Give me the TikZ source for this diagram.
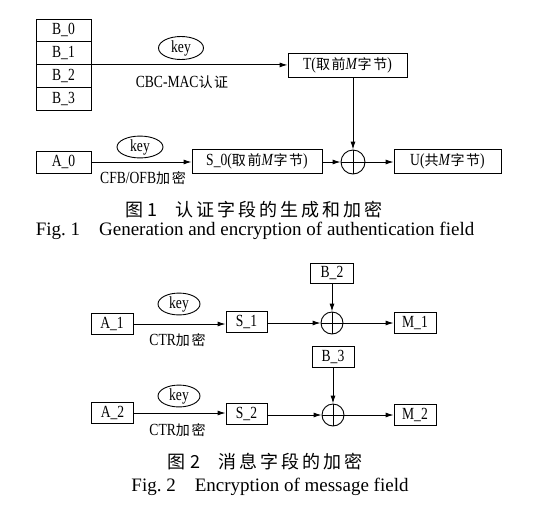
\documentclass[tikz,border=0pt]{standalone}
\usepackage{fontspec}
\setmainfont{Liberation Serif}
\newfontfamily\cond[FakeStretch=0.8]{Liberation Serif}
\newfontfamily\cjk{Noto Sans CJK SC}
\newfontfamily\cjkw[LetterSpace=12]{Noto Sans CJK SC}
\usetikzlibrary{arrows.meta,shapes.geometric}
\newcommand{\zh}[1]{{\fontsize{14}{16}\selectfont\cjkw #1}}
\tikzset{
	blk/.style={draw, line width=0.9pt, inner sep=0pt, font=\fontsize{17}{19}\selectfont\cond},
	keyo/.style={draw, ellipse, line width=0.9pt, inner sep=0pt, font=\fontsize{17}{19}\selectfont\cond},
	xorc/.style={circle, draw, line width=0.9pt, inner sep=0pt, minimum size=#1,
		path picture={\draw[line width=0.9pt] (path picture bounding box.north) -- (path picture bounding box.south)
			(path picture bounding box.west) -- (path picture bounding box.east);}},
	arr/.style={-{Latex[length=8pt,width=5pt]}, line width=0.9pt},
	lbl/.style={font=\fontsize{17}{19}\selectfont\cond, inner sep=0pt},
	capzh/.style={font=\fontsize{18}{20}\selectfont\cjk, inner sep=0pt},
	capen/.style={font=\fontsize{19}{21}\selectfont, inner sep=0pt}
}

\begin{document}
\begin{tikzpicture}[x=1pt, y=-1pt]
			\useasboundingbox (0, 0) rectangle (538, 507);
			%%%%% FIG 1 %%%%%
			
			\node[blk, minimum width=55pt, minimum height=22.75pt] (b0) at (63.5, 30.4) {B\_0};
			\node[blk, minimum width=55pt, minimum height=22.75pt] (b1) at (63.5, 53.1) {B\_1};
			\node[blk, minimum width=55pt, minimum height=22.75pt] (b2) at (63.5, 75.9) {B\_2};
			\node[blk, minimum width=55pt, minimum height=22.75pt] (b3) at (63.5, 98.6) {B\_3};
			
			\node[blk, minimum width=119pt, minimum height=24pt] (tag) at (347.5, 65) {T(\zh{取前}\textit{M}\zh{字节})};
			\node[keyo, minimum width=45pt, minimum height=23pt] (key0) at (181, 48) {key};
			\node[lbl] (cbc) at (182, 82) {CBC-MAC\zh{认证}};
			\draw[arr] (b1.south east) -- (b1.south east -| tag.west);
			
			\node[blk, minimum width=55pt, minimum height=22pt] (a0) at (63.5, 162) {A\_0};
			\node[blk, minimum width=130pt, minimum height=24pt] (s0) at (257, 161) {S\_0(\zh{取前}\textit{M}\zh{字节})};
			\node[xorc=24pt] (x0) at (353, 162) {};
			\node[blk, minimum width=107pt, minimum height=24pt] (u) at (447.5, 161) {U(\zh{共}\textit{M}\zh{字节})};
			\node[keyo, minimum width=46pt, minimum height=20pt] (key1) at (140, 147) {key};
			\node[lbl] (cfb) at (143, 178) {CFB/OFB\zh{加密}};
			
			\draw[arr] (a0) -- (a0 -| s0.west);
			\draw[arr] (x0 -| s0.east) -- (x0);
			\draw[arr] (x0) -- (x0 -| u.west);
			\draw[arr] (tag.south -| x0) -- (x0.north);
			
			\node[capzh] (cap1) at (254, 210) {图~1\quad 认\,证\,字\,段\,的\,生\,成\,和\,加\,密};
			\node[capen] (cap1e) at (255, 231) {Fig.~1\quad Generation and encryption of authentication field};
			
			%%%%% FIG 2 %%%%%
			
			\node[blk, minimum width=42pt, minimum height=21pt] (a1) at (112, 324) {A\_1};
			\node[blk, minimum width=41pt, minimum height=21pt] (s1) at (246.5, 322) {S\_1};
			\node[xorc=22pt] (x1) at (332, 323) {};
			\node[blk, minimum width=42pt, minimum height=21pt] (m1) at (415, 322.5) {M\_1};
			\node[blk, minimum width=43pt, minimum height=20pt] (bb2) at (332, 273) {B\_2};
			\node[keyo, minimum width=42pt, minimum height=17pt] (key2) at (179, 304) {key};
			\node[lbl] (ctr1) at (177.5, 340) {CTR\zh{加密}};
			
			\draw[arr] (a1) -- (a1 -| s1.west);
			\draw[arr] (x1 -| s1.east) -- (x1);
			\draw[arr] (x1) -- (x1 -| m1.west);
			\draw[arr] (bb2) -- (x1);
			
			\node[blk, minimum width=42pt, minimum height=21pt] (a2) at (112.5, 413) {A\_2};
			\node[blk, minimum width=41pt, minimum height=21pt] (s2) at (246.5, 414) {S\_2};
			\node[xorc=22pt] (x2) at (333, 415) {};
			\node[blk, minimum width=42pt, minimum height=21pt] (m2) at (415, 415) {M\_2};
			\node[blk, minimum width=42pt, minimum height=21pt] (bb3) at (333, 356.5) {B\_3};
			\node[keyo, minimum width=42pt, minimum height=17pt] (key3) at (179, 396) {key};
			\node[lbl] (ctr2) at (177.5, 430) {CTR\zh{加密}};
			
			\draw[arr] (a2) -- (a2 -| s2.west);
			\draw[arr] (x2 -| s2.east) -- (x2);
			\draw[arr] (x2) -- (x2 -| m2.west);
			\draw[arr] (bb3) -- (x2);
			
			\node[capzh] (cap2) at (265, 462) {图~2\quad 消\,息\,字\,段\,的\,加\,密};
			\node[capen] (cap2e) at (270, 487) {Fig.~2\quad Encryption of message field};
			
			%%%%% END %%%%%
\end{tikzpicture}
\end{document}
